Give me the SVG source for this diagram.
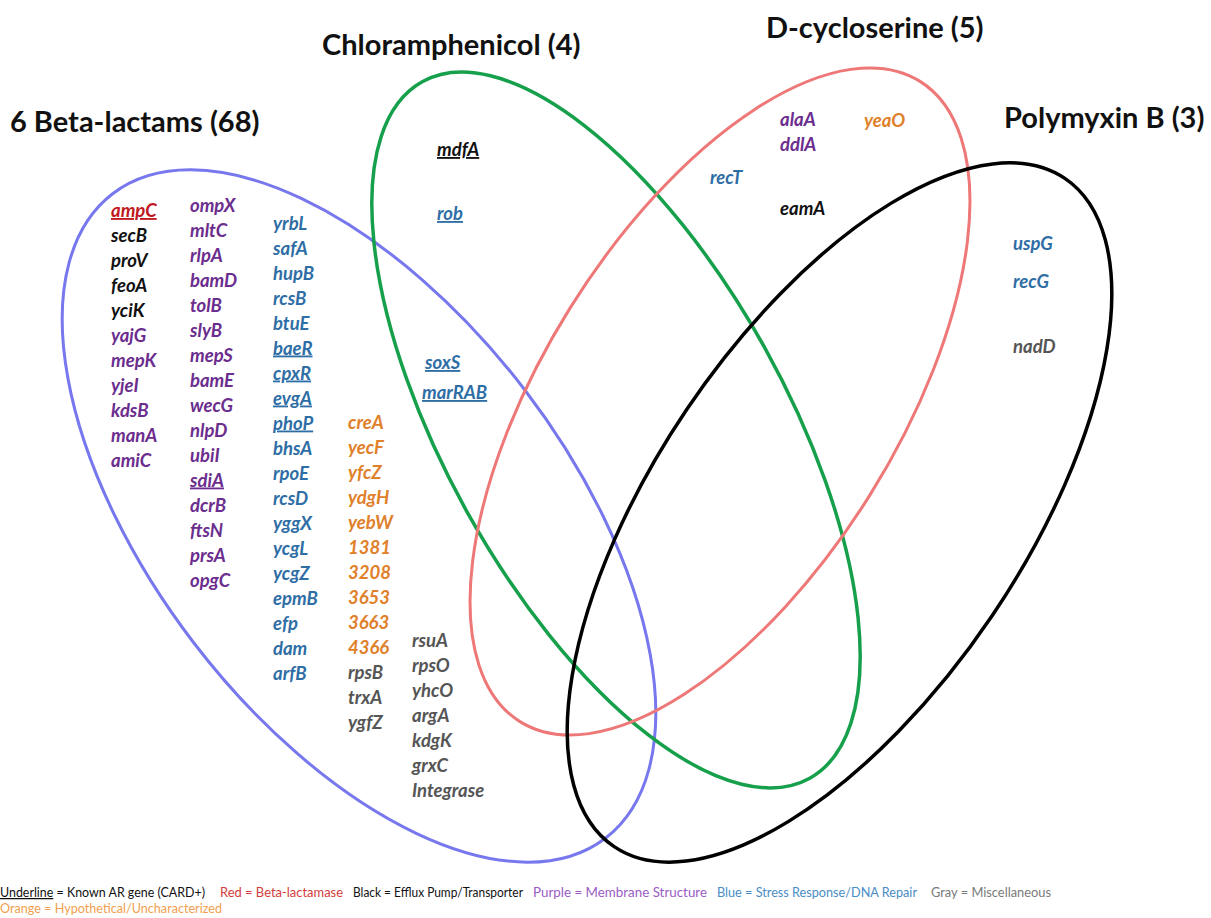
<svg xmlns="http://www.w3.org/2000/svg" width="1211" height="918" viewBox="0 0 1211 918">
<style>
.title{font-family:Lato,"Liberation Sans",sans-serif;font-weight:bold;font-size:29px;fill:#111}
.g{font-family:Lato,"Liberation Sans",sans-serif;font-weight:bold;font-style:italic;font-size:18.5px}
.u{text-decoration:underline}
.red{fill:#c0181e}
.blk{fill:#111}
.pur{fill:#6b2d8e}
.blu{fill:#2f6ea5}
.org{fill:#e0802a}
.gry{fill:#555}
.set{fill:none}
.leg{font-family:Lato,"Liberation Sans",sans-serif;font-size:12.5px}
</style>
<rect width="1211" height="918" fill="#fff"/>
<g id="connectors"></g>
<g id="set-betalactams">
<ellipse class="set" cx="359" cy="516" rx="405.6" ry="208.3" transform="rotate(52.6 359 516)" stroke="#7878ee" stroke-width="3"/>
<text class="title" x="10" y="132">6 Beta-lactams (68)</text>
</g>
<g id="set-chloramphenicol">
<ellipse class="set" cx="616" cy="430" rx="398.5" ry="170" transform="rotate(60.9 616 430)" stroke="#17a04c" stroke-width="3.5"/>
<text class="title" x="322" y="55">Chloramphenicol (4)</text>
</g>
<g id="set-dcycloserine">
<ellipse class="set" cx="720" cy="401.5" rx="377.5" ry="176.7" transform="rotate(-58 720 401.5)" stroke="#ee7878" stroke-width="3"/>
<text class="title" x="766" y="38">D-cycloserine (5)</text>
</g>
<g id="set-polymyxin">
<ellipse class="set" cx="839.5" cy="512.5" rx="403" ry="184.3" transform="rotate(-56 839.5 512.5)" stroke="#000" stroke-width="3.5"/>
<text class="title" x="1004" y="128">Polymyxin B (3)</text>
</g>
<g id="genes-col1" class="g">
<text x="111" y="217" class="red u">ampC</text>
<text x="111" y="242" class="blk">secB</text>
<text x="111" y="267" class="blk">proV</text>
<text x="111" y="292" class="blk">feoA</text>
<text x="111" y="317" class="blk">yciK</text>
<text x="111" y="342" class="pur">yajG</text>
<text x="111" y="367" class="pur">mepK</text>
<text x="111" y="392" class="pur">yjeI</text>
<text x="111" y="417" class="pur">kdsB</text>
<text x="111" y="442" class="pur">manA</text>
<text x="111" y="467" class="pur">amiC</text>
</g>
<g id="genes-col2" class="g pur">
<text x="190" y="211.5">ompX</text>
<text x="190" y="236.5">mltC</text>
<text x="190" y="261.5">rlpA</text>
<text x="190" y="286.5">bamD</text>
<text x="190" y="311.5">tolB</text>
<text x="190" y="336.5">slyB</text>
<text x="190" y="361.5">mepS</text>
<text x="190" y="386.5">bamE</text>
<text x="190" y="411.5">wecG</text>
<text x="190" y="436.5">nlpD</text>
<text x="190" y="461.5">ubiI</text>
<text x="190" y="486.5" class="u">sdiA</text>
<text x="190" y="511.5">dcrB</text>
<text x="190" y="536.5">ftsN</text>
<text x="190" y="561.5">prsA</text>
<text x="190" y="586.5">opgC</text>
</g>
<g id="genes-col3" class="g blu">
<text x="273" y="229.5">yrbL</text>
<text x="273" y="254.5">safA</text>
<text x="273" y="279.5">hupB</text>
<text x="273" y="304.5">rcsB</text>
<text x="273" y="329.5">btuE</text>
<text x="273" y="354.5" class="u">baeR</text>
<text x="273" y="379.5" class="u">cpxR</text>
<text x="273" y="404.5" class="u">evgA</text>
<text x="273" y="429.5" class="u">phoP</text>
<text x="273" y="454.5">bhsA</text>
<text x="273" y="479.5">rpoE</text>
<text x="273" y="504.5">rcsD</text>
<text x="273" y="529.5">yggX</text>
<text x="273" y="554.5">ycgL</text>
<text x="273" y="579.5">ycgZ</text>
<text x="273" y="604.5">epmB</text>
<text x="273" y="629.5">efp</text>
<text x="273" y="654.5">dam</text>
<text x="273" y="679.5">arfB</text>
</g>
<g id="genes-col4" class="g">
<text x="348" y="428.5" class="org">creA</text>
<text x="348" y="453.5" class="org">yecF</text>
<text x="348" y="478.5" class="org">yfcZ</text>
<text x="348" y="503.5" class="org">ydgH</text>
<text x="348" y="528.5" class="org">yebW</text>
<text x="348" y="553.5" class="org">1381</text>
<text x="348" y="578.5" class="org">3208</text>
<text x="348" y="603.5" class="org">3653</text>
<text x="348" y="628.5" class="org">3663</text>
<text x="348" y="653.5" class="org">4366</text>
<text x="348" y="678.5" class="gry">rpsB</text>
<text x="348" y="703.5" class="gry">trxA</text>
<text x="348" y="728.5" class="gry">ygfZ</text>
</g>
<g id="genes-col5" class="g gry">
<text x="412" y="647">rsuA</text>
<text x="412" y="672">rpsO</text>
<text x="412" y="697">yhcO</text>
<text x="412" y="722">argA</text>
<text x="412" y="747">kdgK</text>
<text x="412" y="772">grxC</text>
<text x="412" y="797">Integrase</text>
</g>
<g id="genes-chloramphenicol" class="g">
<text x="437" y="156" class="blk u">mdfA</text>
<text x="437" y="220" class="blu u">rob</text>
</g>
<g id="genes-beta-chlor" class="g blu">
<text x="425" y="369" class="u">soxS</text>
<text x="422" y="399" class="u">marRAB</text>
</g>
<g id="genes-dcycloserine" class="g">
<text x="780" y="126" class="pur">alaA</text>
<text x="780" y="151" class="pur">ddlA</text>
<text x="864" y="127" class="org">yeaO</text>
<text x="710" y="184" class="blu">recT</text>
<text x="780" y="215" class="blk">eamA</text>
</g>
<g id="genes-polymyxin" class="g">
<text x="1013" y="250" class="blu">uspG</text>
<text x="1013" y="288" class="blu">recG</text>
<text x="1013" y="353" class="gry">nadD</text>
</g>
<g id="legend" class="leg">
<text x="0" y="897" fill="#111" textLength="205" lengthAdjust="spacingAndGlyphs"><tspan class="u">Underline</tspan> = Known AR gene (CARD+)</text>
<text x="220" y="897" fill="#d33c3c" textLength="123" lengthAdjust="spacingAndGlyphs">Red = Beta-lactamase</text>
<text x="353" y="897" fill="#111" textLength="170" lengthAdjust="spacingAndGlyphs">Black = Efflux Pump/Transporter</text>
<text x="533" y="897" fill="#9a5cc4" textLength="174" lengthAdjust="spacingAndGlyphs">Purple = Membrane Structure</text>
<text x="717" y="897" fill="#4a8cc4" textLength="200" lengthAdjust="spacingAndGlyphs">Blue = Stress Response/DNA Repair</text>
<text x="931" y="897" fill="#7a7a7a" textLength="120" lengthAdjust="spacingAndGlyphs">Gray = Miscellaneous</text>
<text x="0" y="913" fill="#f0a050" textLength="222" lengthAdjust="spacingAndGlyphs">Orange = Hypothetical/Uncharacterized</text>
</g>
</svg>
